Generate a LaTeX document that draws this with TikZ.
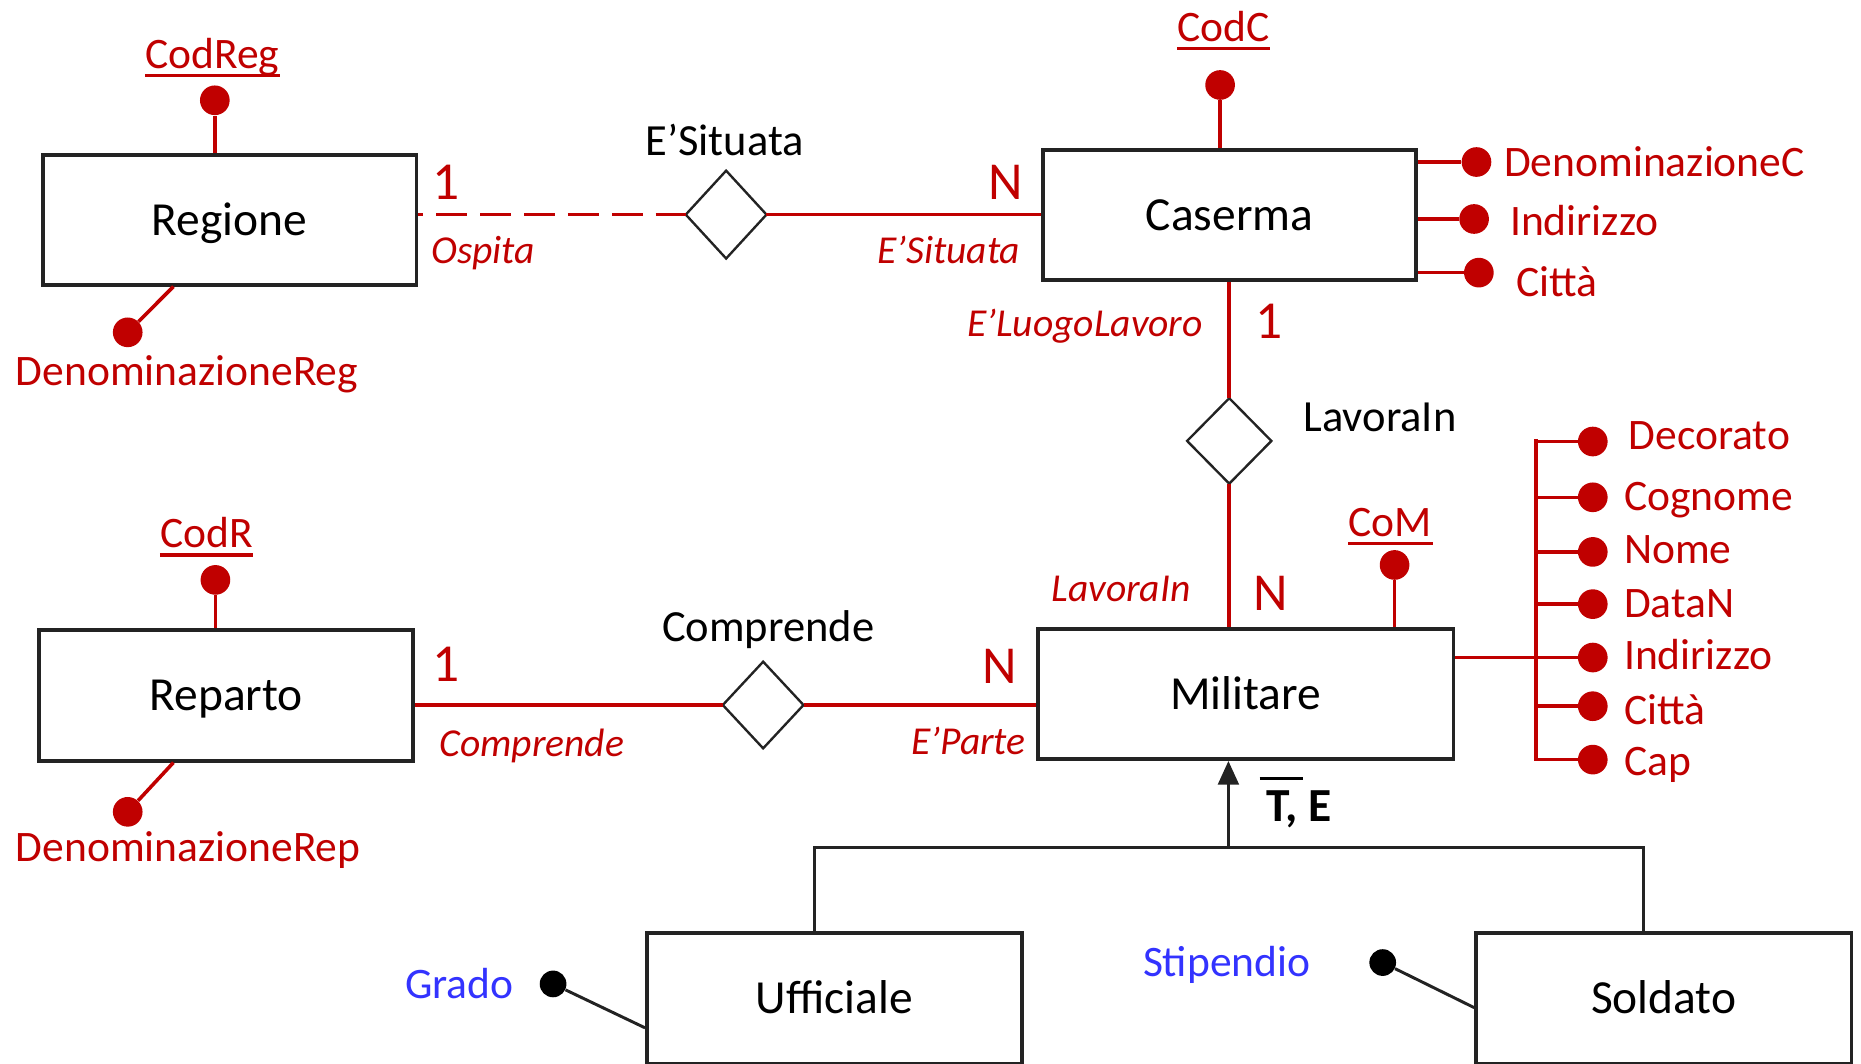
\documentclass[tikz,border=0pt]{standalone}
\usepackage{fontspec}
\setmainfont{Carlito}
\usetikzlibrary{shapes.geometric,arrows.meta,calc}
\definecolor{erred}{RGB}{192,0,0}
\definecolor{erblue}{RGB}{51,51,255}
\definecolor{erline}{RGB}{35,35,35}
\begin{document}
\begin{tikzpicture}[x=0.6pt,y=-0.6pt,
  entity/.style={draw=erline,line width=1.8pt,inner sep=0pt,font=\fontsize{24}{28}\selectfont,text height=16.5pt,text depth=1pt},
  relship/.style={diamond,draw=erline,line width=1.2pt,inner sep=0pt,outer sep=0pt},
  rel/.style={draw=erred,line width=1.8pt},
  attrline/.style={draw=erred,line width=1.8pt},
  gen/.style={draw=erline,line width=1.5pt},
  rdot/.style={circle,fill=erred,inner sep=0pt,minimum size=15pt},
  bdot/.style={circle,fill=black,inner sep=0pt,minimum size=13.5pt},
  attr/.style={text=erred,inner sep=0pt,font=\fontsize{22}{26}\selectfont},
  battr/.style={text=erblue,inner sep=0pt,font=\fontsize{22}{26}\selectfont},
  role/.style={text=erred,inner sep=0pt,font=\itshape\fontsize{20}{24}\selectfont},
  card/.style={text=erred,inner sep=0pt,font=\fontsize{27}{30}\selectfont},
  rlabel/.style={text=black,inner sep=0pt,font=\fontsize{22.5}{26}\selectfont},
  keyul/.style={draw=erred,line width=1.6pt}
]
\useasboundingbox (0,0) rectangle (1568,896);

% ---------- entities ----------
\node[entity,minimum width=189pt,minimum height=65.6pt] (reg) at (193.5,185.3) {Regione};
\node[entity,minimum width=188.4pt,minimum height=65.8pt] (cas) at (1036,181.2) {Caserma};
\node[entity,minimum width=189pt,minimum height=66pt] (rep) at (190.5,586) {Reparto};
\node[entity,minimum width=210pt,minimum height=65.8pt] (mil) at (1049.5,584.8) {Militare};
\node[entity,minimum width=189.6pt,minimum height=66pt] (uff) at (703,841) {Ufficiale};
\node[entity,minimum width=189.8pt,minimum height=66pt] (sol) at (1401.8,841) {Soldato};

% ---------- relationships ----------
\node[relship,minimum width=40.8pt,minimum height=44.4pt] (sit) at (611.8,180.8) {};
\node[relship,minimum width=42.6pt,minimum height=43.2pt] (lav) at (1035.7,371.5) {};
\node[relship,minimum width=40.8pt,minimum height=43.8pt] (com) at (643,594) {};

\node[rlabel,anchor=base] (sitlab) at (610.5,131.4) {E’Situata};
\node[rlabel,anchor=base west] (lavlab) at (1098,363.7) {LavoraIn};
\node[rlabel,anchor=base] (comlab) at (647.3,540.6) {Comprende};

\draw[rel,dash pattern=on 15.6pt off 6.6pt,dash phase=13.2pt] (reg.east |- sit.west) -- (sit.west);
\draw[rel] (sit.east) -- (sit.east -| cas.west);
\draw[rel] (lav.north |- cas.south) -- (lav.north);
\draw[rel] (lav.south) -- (lav.south |- mil.north);
\draw[rel] (rep.east |- com.west) -- (com.west);
\draw[rel] (com.east) -- (com.east -| mil.west);

% cardinalities and roles
\node[card,anchor=base] (c1) at (376,167.7) {1};
\node[role,anchor=base west] (r1) at (363,222) {Ospita};
\node[card,anchor=base] (c2) at (847.5,167.7) {N};
\node[role,anchor=base east] (r2) at (860,222) {E’Situata};
\node[role,anchor=base east] (r3) at (1013.7,283.6) {E’LuogoLavoro};
\node[card,anchor=base] (c3) at (1069,285) {1};
\node[role,anchor=base east] (r4) at (1003.5,507) {LavoraIn};
\node[card,anchor=base] (c4) at (1070.5,514.5) {N};
\node[card,anchor=base] (c5) at (376,573.8) {1};
\node[role,anchor=base west] (r5) at (370,637) {Comprende};
\node[card,anchor=base] (c6) at (842,576) {N};
\node[role,anchor=base east] (r6) at (864.5,636) {E’Parte};

% ---------- Regione attributes ----------
\node[rdot] (codregdot) at (181,84.5) {};
\draw[attrline] (codregdot) -- (codregdot |- reg.north);
\node[attr,anchor=base] (codreg) at (179,57.6) {CodReg};
\draw[keyul] ([yshift=-3.8pt]codreg.base west) -- ([yshift=-3.8pt]codreg.base east);
\node[rdot] (denregdot) at (107.6,280) {};
\draw[attrline] (denregdot) -- ($(reg.south west)+(111.6,0)$);
\node[attr,anchor=base west] (denreg) at (13,324.4) {DenominazioneReg};

% ---------- Caserma attributes ----------
\node[rdot] (codcdot) at (1028,71.6) {};
\draw[attrline] (codcdot) -- (codcdot |- cas.north);
\node[attr,anchor=base] (codc) at (1031,35) {CodC};
\draw[keyul] ([yshift=-3.5pt]codc.base west) -- ([yshift=-3.5pt]codc.base east);
\node[rdot] (dcdot) at (1244,136.5) {};
\node[rdot] (cinddot) at (1242,184.5) {};
\node[rdot] (ccitdot) at (1246,229.7) {};
\draw[attrline] (dcdot -| cas.east) -- (dcdot);
\draw[attrline] (cinddot -| cas.east) -- (cinddot);
\draw[attrline] (ccitdot -| cas.east) -- (ccitdot);
\node[attr,anchor=base west] (dc) at (1267,149) {DenominazioneC};
\node[attr,anchor=base west] (cind) at (1272,198) {Indirizzo};
\node[attr,anchor=base west] (ccit) at (1277,249.4) {Città};

% ---------- Reparto attributes ----------
\node[rdot] (codrdot) at (181.5,488.6) {};
\draw[attrline] (codrdot) -- (codrdot |- rep.north);
\node[attr,anchor=base] (codr) at (174,461.4) {CodR};
\draw[keyul] ([yshift=-3.7pt]codr.base west) -- ([yshift=-3.7pt]codr.base east);
\node[rdot] (denrepdot) at (107.6,684) {};
\draw[attrline] (denrepdot) -- ($(rep.south west)+(114.6,0)$);
\node[attr,anchor=base west] (denrep) at (13,726) {DenominazioneRep};

% ---------- Militare attributes ----------
\node[rdot] (comdot) at (1175,476) {};
\draw[attrline] (comdot) -- (comdot |- mil.north);
\node[attr,anchor=base] (com2) at (1171.5,452) {CoM};
\draw[keyul] ([yshift=-3.4pt]com2.base west) -- ([yshift=-3.4pt]com2.base east);

\coordinate (bartop) at (1294,370);
\coordinate (barbot) at (1294,641);
\draw[attrline] (bartop) -- (barbot);
\node[rdot] (m1) at (1342,372) {};
\node[rdot] (m2) at (1342,419) {};
\node[rdot] (m3) at (1342,465) {};
\node[rdot] (m4) at (1342,509) {};
\node[rdot] (m5) at (1342,554) {};
\node[rdot] (m6) at (1342,595) {};
\node[rdot] (m7) at (1342,640) {};
\draw[attrline] (m1 -| bartop) -- (m1);
\draw[attrline] (m2 -| bartop) -- (m2);
\draw[attrline] (m3 -| bartop) -- (m3);
\draw[attrline] (m4 -| bartop) -- (m4);
\draw[attrline] (mil.east |- m5) -- (m5);
\draw[attrline] (m6 -| bartop) -- (m6);
\draw[attrline] (m7 -| bartop) -- (m7);
\node[attr,anchor=base west] (t1) at (1372,379) {Decorato};
\node[attr,anchor=base west] (t2) at (1368,429.7) {Cognome};
\node[attr,anchor=base west] (t3) at (1368,474.6) {Nome};
\node[attr,anchor=base west] (t4) at (1368,520) {DataN};
\node[attr,anchor=base west] (t5) at (1368,563.8) {Indirizzo};
\node[attr,anchor=base west] (t6) at (1368,610) {Città};
\node[attr,anchor=base west] (t7) at (1368,653.8) {Cap};

% ---------- generalization ----------
\coordinate (ghub) at (1035,714);
\coordinate (gl) at (686,714);
\coordinate (gr) at (1385,714);
\draw[gen] (gl |- uff.north) -- (gl) -- (gr) -- (gr |- sol.north);
\draw[gen,-{Triangle[length=12pt,width=10.5pt]}] (ghub) -- (ghub |- mil.south);
\node[inner sep=0pt,anchor=base west,font=\bfseries\fontsize{24}{28}\selectfont] (disj) at (1067,692.5)
  {\rlap{\hspace{-0.15em}\rule[0.88em]{0.92em}{0.075em}}T, E};

\node[bdot] (gradodot) at (466,829) {};
\draw[gen] (gradodot) -- ($(uff.west)+(0,25)$);
\node[battr,anchor=base west] (grado) at (341,841) {Grado};
\node[bdot] (stipdot) at (1165,811) {};
\draw[gen] (stipdot) -- ($(sol.west)+(0,8)$);
\node[battr,anchor=base west] (stip) at (962.7,823) {Stipendio};
\end{tikzpicture}
\end{document}
